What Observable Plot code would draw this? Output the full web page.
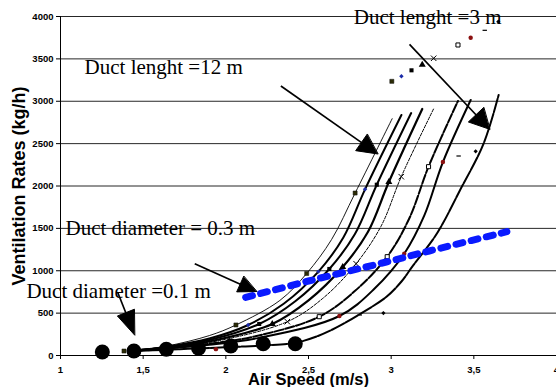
<!DOCTYPE html>
<html>
<head>
<meta charset="utf-8">
<script src="https://cdn.jsdelivr.net/npm/d3@7"></script>
<script src="https://cdn.jsdelivr.net/npm/@observablehq/plot@0.6"></script>
<style>
html, body { margin: 0; padding: 0; background: #fff; overflow: hidden; }
#chart { width: 556px; height: 387px; overflow: hidden; }
</style>
</head>
<body>
<div id="chart"></div>
<script>
// ---- tick values ----
const xTicks = [1, 1.5, 2, 2.5, 3, 3.5, 4];
const yTicks = [0, 500, 1000, 1500, 2000, 2500, 3000, 3500, 4000];

// ---- fitted curves (air speed m/s, ventilation kg/h) ----
const curveA = [[1.44,55],[1.64,110],[1.90,235],[2.061,360],[2.327,650],[2.489,968],[2.64,1370],[2.782,1917],[3.006,2794]];
const curveB = [[1.44,56],[1.64,102],[1.90,200],[2.135,360],[2.35,610],[2.56,990],[2.71,1390],[2.842,1961],[3.062,2838]];
const curveC = [[1.44,56],[1.64,97],[1.90,182],[2.202,372],[2.42,640],[2.626,1021],[2.78,1430],[2.913,2015],[3.121,2861]];
const curveD = [[1.44,56],[1.64,93],[1.90,165],[2.281,372],[2.50,650],[2.707,1044],[2.86,1460],[2.986,2047],[3.188,2909]];
const curveE = [[1.44,56],[1.64,90],[1.90,153],[2.372,399],[2.59,680],[2.788,1083],[2.94,1530],[3.061,2110],[3.259,2920]];
const curveF = [[1.44,55],[1.64,85],[1.90,137],[2.20,236],[2.565,458],[2.78,760],[2.976,1166],[3.11,1620],[3.226,2228],[3.404,3003]];
const curveG = [[1.44,55],[1.64,82],[1.90,126],[2.20,208],[2.687,466],[2.90,790],[3.079,1201],[3.20,1650],[3.313,2283],[3.481,3015]];
const curveH = [[1.44,52],[1.64,68],[1.835,84],[2.03,100],[2.226,118],[2.42,150],[2.55,225],[2.667,328],[2.808,486],[2.97,690],[3.061,870],[3.132,1060],[3.253,1370],[3.313,1560],[3.414,1941],[3.559,2500],[3.65,3074]];

// ---- measured points ----
const ptsDarkSquare = [[1.384,53],[2.061,360],[2.489,968],[2.782,1917],[3.004,3235]];
const ptsBlueDiamond = [[2.135,360],[2.56,990],[2.842,1961],[3.062,3294]];
const ptsSquare = [[2.202,372],[2.626,1021],[2.913,2015],[3.123,3365]];
const ptsTriangle = [[2.281,372],[2.707,1044],[2.986,2047],[3.188,3431]];
const ptsTimes = [[2.372,399],[2.788,1083],[3.061,2110],[3.257,3507]];
const ptsOpenSquare = [[2.565,458],[2.976,1166],[3.226,2228],[3.404,3664]];
const ptsRedCircle = [[1.94,75],[2.687,466],[3.079,1201],[3.313,2283],[3.481,3750]];
const ptsDash = [[2.81,478],[3.408,2354],[3.566,3837]];
const ptsDiamond = [[2.953,501],[3.307,1272],[3.511,2409],[3.648,3939]];
const ptsBigCircle = [[1.253,41],[1.444,53],[1.64,73],[1.835,85],[2.03,112],[2.226,139],[2.42,139]];

// ---- blue dotted line (duct diameter 0.3 m) ----
const blueLine = [[2.12,685],[2.50,879],[2.97,1103],[3.23,1233],[3.70,1461]];

// ---- annotations ----
const annotText = ["Duct lenght =12 m", "Duct lenght =3 m", "Duct diameter = 0.3 m", "Duct diameter =0.1 m"];
const annotX = [1.1455, 2.774, 1.03, 0.794];
const annotY = [3321, 3915, 1422, 682];
const arrowTail = [[2.333,3180],[3.111,3672],[1.812,1083],[1.347,741]];
const arrowTip = [[2.919,2378],[3.596,2669],[2.186,755],[1.448,242]];
const arrowHead = [[20,20],[20,21],[18,17],[24,18]];

// ---- layout ----
const W = 556, H = 387, mL = 60, mR = 0, mT = 16, mB = 32;
const sx = d3.scaleLinear([1, 4], [mL, W - mR]);
const sy = d3.scaleLinear([0, 4000], [H - mB, mT]);

const heads = [];
const links = [];
arrowTail.forEach((t, i) => {
  const a = [sx(t[0]), sy(t[1])], b = [sx(arrowTip[i][0]), sy(arrowTip[i][1])];
  const dx = b[0] - a[0], dy = b[1] - a[1], len = Math.hypot(dx, dy);
  const ux = dx / len, uy = dy / len;
  const [L, Wd] = arrowHead[i];
  const bx = b[0] - ux * L, by = b[1] - uy * L;
  [[b[0], b[1]], [bx - uy * Wd / 2, by + ux * Wd / 2], [bx + uy * Wd / 2, by - ux * Wd / 2]]
    .forEach(p => heads.push({id: i, x: sx.invert(p[0]), y: sy.invert(p[1])}));
  links.push({x1: t[0], y1: t[1], x2: sx.invert(bx + ux * 2), y2: sy.invert(by + uy * 2)});
});

const annots = annotText.map((t, i) => ({t, x: annotX[i], y: annotY[i]}));

const dashSymbol = {
  draw(context, size) {
    const h = Math.sqrt(size) * 0.62;
    context.moveTo(-h, 0);
    context.lineTo(h, 0);
  }
};

const X = d => d[0], Y = d => d[1];
const curve = (data, opts) => Plot.line(data, {x: X, y: Y, curve: "catmull-rom", stroke: "#000", ...opts});

const chart = Plot.plot({
  width: W, height: H,
  marginLeft: mL, marginRight: mR, marginTop: mT, marginBottom: mB,
  style: {fontFamily: "'Liberation Sans', Arial, sans-serif", fontSize: "9.5px", fontWeight: "bold", background: "#fff", color: "#000"},
  x: {domain: [1, 4], ticks: xTicks, tickFormat: d => String(d).replace(".", ","), tickSize: 4, tickPadding: 7, label: null},
  y: {domain: [0, 4000], ticks: yTicks, tickFormat: d => String(d), tickSize: 4, tickPadding: 3, label: null},
  marks: [
    Plot.ruleY(yTicks.filter(d => d > 0), {stroke: "#000", strokeWidth: 1, strokeOpacity: 0.85}),
    Plot.ruleY([0], {stroke: "#000", strokeWidth: 1}),
    Plot.ruleX([1], {stroke: "#000", strokeWidth: 1}),
    curve(curveA, {strokeWidth: 0.9}),
    curve(curveB, {strokeWidth: 2}),
    curve(curveC, {strokeWidth: 2}),
    curve(curveD, {strokeWidth: 2.2}),
    curve(curveE, {strokeWidth: 1, strokeDasharray: "3,1.5"}),
    curve(curveF, {strokeWidth: 2, strokeDasharray: "9,2"}),
    curve(curveG, {strokeWidth: 2}),
    curve(curveH, {strokeWidth: 2, strokeDasharray: "14,1.5"}),
    Plot.dot(ptsDarkSquare, {x: X, y: Y, symbol: "square", r: 2.3, fill: "#2b2b05", stroke: "#111", strokeWidth: 0.5}),
    Plot.dot(ptsBlueDiamond, {x: X, y: Y, symbol: "diamond2", r: 2, fill: "#1a2aa8"}),
    Plot.dot(ptsSquare, {x: X, y: Y, symbol: "square", r: 2.3, fill: "#000"}),
    Plot.dot(ptsTriangle, {x: X, y: Y, symbol: "triangle", r: 2.6, fill: "#000"}),
    Plot.dot(ptsTimes, {x: X, y: Y, symbol: "times", r: 2.6, fill: "none", stroke: "#000", strokeWidth: 1}),
    Plot.dot(ptsOpenSquare, {x: X, y: Y, symbol: "square", r: 2.3, fill: "#fff", stroke: "#000", strokeWidth: 1}),
    Plot.dot(ptsRedCircle, {x: X, y: Y, symbol: "circle", r: 2.2, fill: "#8b1010"}),
    Plot.dot(ptsDash, {x: X, y: Y, symbol: dashSymbol, r: 2, fill: "none", stroke: "#000", strokeWidth: 1.2}),
    Plot.dot(ptsDiamond, {x: X, y: Y, symbol: "diamond2", r: 1.9, fill: "#000"}),
    Plot.line(blueLine, {x: X, y: Y, curve: "catmull-rom", stroke: "#0a1aff", strokeWidth: 7, strokeDasharray: "7,8.5"}),
    Plot.dot(ptsBigCircle, {x: X, y: Y, r: 7.5, fill: "#000"}),
    Plot.link(links, {x1: "x1", y1: "y1", x2: "x2", y2: "y2", stroke: "#000", strokeWidth: 1.7}),
    Plot.line(heads, {x: "x", y: "y", z: "id", curve: "linear-closed", fill: "#000", stroke: "#000", strokeWidth: 1}),
    Plot.text(annots, {x: "x", y: "y", text: "t", textAnchor: "start", lineAnchor: "bottom",
      fontFamily: "'Liberation Serif', 'Times New Roman', serif", fontSize: 21, fontWeight: "normal", fill: "#000"}),
    Plot.text(["Ventilation Rates (kg/h)"], {text: d => d, frameAnchor: "left", textAnchor: "middle", dx: -41, rotate: -90, fontSize: 18, fontWeight: "bold", fill: "#000"}),
    Plot.text(["Air Speed (m/s)"], {text: d => d, frameAnchor: "bottom", textAnchor: "middle", dy: 29, lineAnchor: "bottom", fontSize: 16.5, fontWeight: "bold", fill: "#000"})
  ]
});
document.getElementById("chart").appendChild(chart);
</script>
</body>
</html>
